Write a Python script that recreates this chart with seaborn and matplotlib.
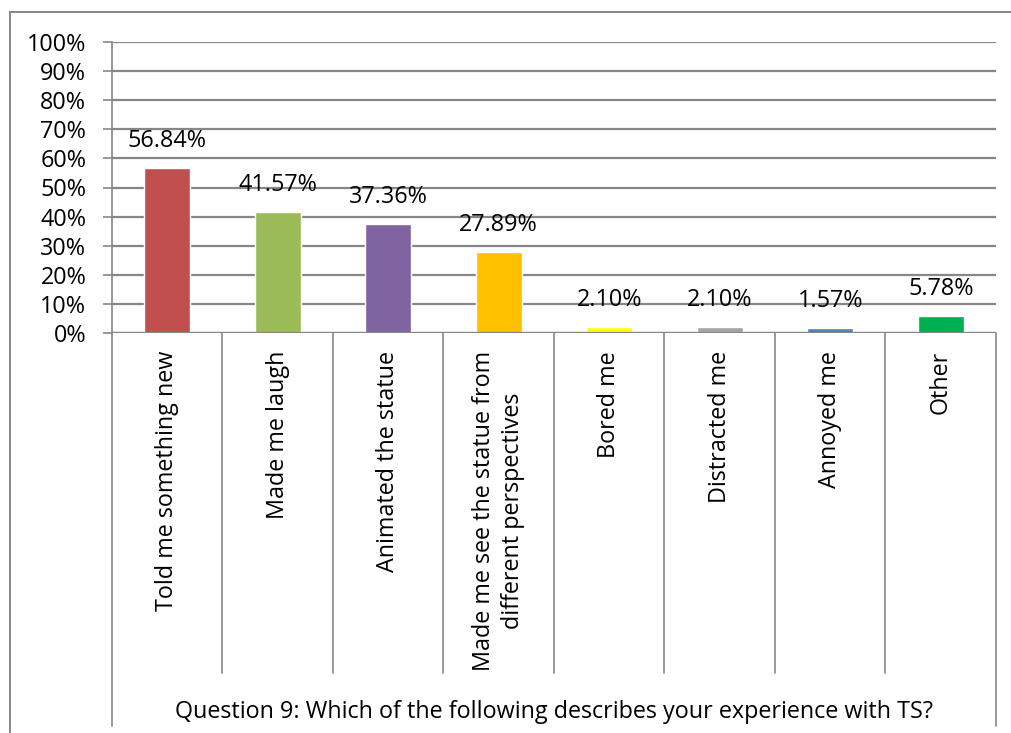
import matplotlib
matplotlib.use("Agg")
import matplotlib.pyplot as plt
from matplotlib.patches import Rectangle
import seaborn as sns
import pandas as pd

categories = [
    "Told me something new",
    "Made me laugh",
    "Animated the statue",
    "Made me see the statue from\ndifferent perspectives",
    "Bored me",
    "Distracted me",
    "Annoyed me",
    "Other",
]
shares = [56.84, 41.57, 37.36, 27.89, 2.10, 2.10, 1.57, 5.78]
bar_colors = ["#C0504D", "#9BBB59", "#8064A2", "#FFC000",
              "#FFFF00", "#A5A5A5", "#4F81BD", "#00B050"]
y_ticks = [0, 10, 20, 30, 40, 50, 60, 70, 80, 90, 100]
axis_title = "Question 9: Which of the following describes your experience with TS?"

sns.set_theme(style="white")
plt.rcParams["font.family"] = ["Open Sans", "DejaVu Sans"]

FS = 16.8
GRID = "#878787"

W, H = 1012, 733
fig = plt.figure(figsize=(W / 100, H / 100), dpi=100)
left, right, top, bottom = 112, 996, 42, 333
ax = fig.add_axes([left / W, 1 - bottom / H, (right - left) / W, (bottom - top) / H])

df = pd.DataFrame({"category": categories, "share": shares})
sns.barplot(data=df, x="category", y="share", hue="category",
            palette=bar_colors, width=0.42, legend=False, ax=ax,
            saturation=1)

ax.set_xlim(-0.5, len(categories) - 0.5)
ax.set_ylim(0, 100)
ax.set_yticks(y_ticks)
ax.set_yticklabels([f"{t}%" for t in y_ticks], fontsize=FS, color="black")
ax.yaxis.grid(True, color=GRID, linewidth=1.6)
ax.set_axisbelow(True)
ax.tick_params(axis="y", length=6.5, width=1.2, color=GRID, pad=12, left=True)
ax.set_xticks([])
ax.set_xlabel("")
ax.set_ylabel("")
for s in ["top", "right", "bottom"]:
    ax.spines[s].set_visible(False)
ax.spines["left"].set_color(GRID)
ax.spines["left"].set_linewidth(1.2)

# Value labels above bars
for i, v in enumerate(shares):
    ax.annotate(f"{v:.2f}%", (i, v), xytext=(0, 19.5), textcoords="offset points",
                ha="center", va="center", fontsize=FS, color="black")

# Axis line at 0 spanning the plot
ax.axhline(0, color=GRID, linewidth=1.6, zorder=3)

# Two-level category axis: separators and labels below
px = 1.0 / (bottom - top)
inner_end = -(673 - bottom) * px
outer_end = -(726 - bottom) * px
trans = ax.get_xaxis_transform()
n = len(categories)
for k in range(n + 1):
    y_end = outer_end if k in (0, n) else inner_end
    ax.plot([k - 0.5, k - 0.5], [0, y_end], transform=trans, color=GRID,
            linewidth=1.2, clip_on=False, zorder=3)

for i, c in enumerate(categories):
    ax.text(i, -18 * px, c, transform=trans, rotation=90, ha="center", va="top",
            multialignment="center", fontsize=FS, color="black", linespacing=1.25)

ax.text(0.5, -(712 - bottom) * px, axis_title, transform=ax.transAxes,
        ha="center", va="center", fontsize=FS, color="black")

# Chart border
fig.patches.append(Rectangle((10 / W, -0.05), 1.1, 1 - 12 / H + 0.05,
                             transform=fig.transFigure, fill=False,
                             edgecolor=GRID, linewidth=1.4))

fig.savefig("out.png", dpi=100, facecolor="white")
